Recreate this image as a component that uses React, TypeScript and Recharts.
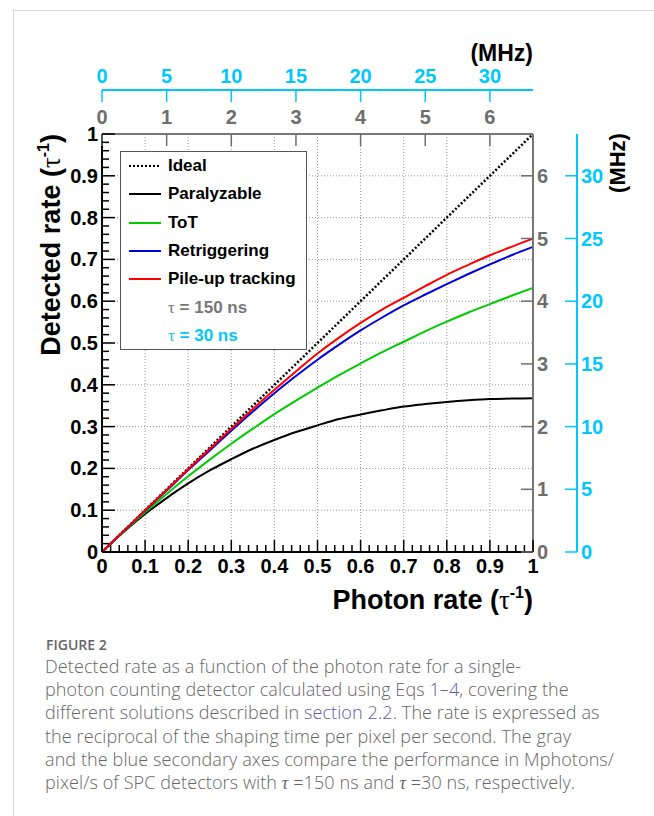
import { LineChart, Line, XAxis, YAxis, ReferenceLine } from "recharts";

// photon rate in units of 1/tau
const photonRate = [0, 0.05, 0.1, 0.15, 0.2, 0.25, 0.3, 0.35, 0.4, 0.45, 0.5, 0.55, 0.6, 0.65, 0.7, 0.75, 0.8, 0.85, 0.9, 0.95, 1];
const ideal = [0, 0.05, 0.1, 0.15, 0.2, 0.25, 0.3, 0.35, 0.4, 0.45, 0.5, 0.55, 0.6, 0.65, 0.7, 0.75, 0.8, 0.85, 0.9, 0.95, 1];
const paralyzable = [0, 0.048, 0.091, 0.129, 0.164, 0.195, 0.222, 0.247, 0.268, 0.287, 0.303, 0.318, 0.329, 0.339, 0.348, 0.354, 0.359, 0.363, 0.366, 0.367, 0.368];
const tot = [0, 0.049, 0.095, 0.139, 0.181, 0.221, 0.259, 0.295, 0.33, 0.362, 0.393, 0.423, 0.451, 0.478, 0.503, 0.528, 0.551, 0.573, 0.593, 0.613, 0.632];
const retriggering = [0, 0.05, 0.099, 0.147, 0.196, 0.243, 0.29, 0.336, 0.38, 0.421, 0.46, 0.496, 0.53, 0.561, 0.59, 0.616, 0.641, 0.665, 0.688, 0.71, 0.73];
const pileUp = [0, 0.05, 0.1, 0.149, 0.198, 0.247, 0.295, 0.342, 0.388, 0.432, 0.475, 0.513, 0.548, 0.58, 0.608, 0.636, 0.663, 0.687, 0.71, 0.73, 0.75];

const rateGrid = [0.1, 0.2, 0.3, 0.4, 0.5, 0.6, 0.7, 0.8, 0.9];
const rateTicks = Array.from({ length: 51 }, (_, i) => i / 50);
const mhz150Ticks = [0, 1, 2, 3, 4, 5, 6];
const mhz30Ticks = [0, 5, 10, 15, 20, 25, 30];
// 1/tau expressed in MHz for tau = 150 ns and tau = 30 ns
const mhz150Max = 1000 / 150;
const mhz30Max = 1000 / 30;

const data = photonRate.map((x, i) => ({
  x,
  mhz150: x * mhz150Max,
  mhz30: x * mhz30Max,
  ideal: ideal[i],
  paralyzable: paralyzable[i],
  tot: tot[i],
  retriggering: retriggering[i],
  pileUp: pileUp[i],
}));

const series = [
  { key: "ideal", name: "Ideal", color: "#000000", dash: "2 2" },
  { key: "paralyzable", name: "Paralyzable", color: "#000000" },
  { key: "tot", name: "ToT", color: "#00cc00" },
  { key: "retriggering", name: "Retriggering", color: "#0000dd" },
  { key: "pileUp", name: "Pile-up tracking", color: "#ff0000" },
];

const FONT = "'Liberation Sans', Arial, Helvetica, sans-serif";
const SERIF = "'Liberation Serif', serif";
const GRAY = "#6e6e6e";
const CYAN = "#00c8ff";
const TICK_FONT = 20;

const isMajor = (v: number) => Math.abs(v * 10 - Math.round(v * 10)) < 1e-6;
const fmtRate = (v: number) => (v === 0 ? "0" : v === 1 ? "1" : v.toFixed(1));

function RateXTick({ x, y, payload }: any) {
  const v = payload.value;
  const major = isMajor(v);
  return (
    <g>
      <line x1={x} x2={x} y1={y} y2={y - (major ? 12 : 7)} stroke="#000" strokeWidth={1.5} />
      {major && (
        <text x={x} y={y + 21} textAnchor="middle" fontFamily={FONT} fontWeight="bold" fontSize={TICK_FONT} fill="#000">
          {fmtRate(v)}
        </text>
      )}
    </g>
  );
}

function RateYTick({ x, y, payload }: any) {
  const v = payload.value;
  const major = isMajor(v);
  return (
    <g>
      <line x1={x} x2={x + (major ? 13 : 7)} y1={y} y2={y} stroke="#000" strokeWidth={1.5} />
      {major && (
        <text x={x - 4} y={y + 7} textAnchor="end" fontFamily={FONT} fontWeight="bold" fontSize={TICK_FONT} fill="#000">
          {fmtRate(v)}
        </text>
      )}
    </g>
  );
}

function TopTick({ x, y, payload, color, down }: any) {
  return (
    <g>
      <line x1={x} x2={x} y1={y} y2={y + 12} stroke={color} strokeWidth={1.5} />
      <text x={x} y={y - down} textAnchor="middle" fontFamily={FONT} fontWeight="bold" fontSize={TICK_FONT} fill={color}>
        {payload.value}
      </text>
    </g>
  );
}

function RightTick({ x, y, payload, color }: any) {
  return (
    <g>
      <line x1={x} x2={x - 12} y1={y} y2={y} stroke={color} strokeWidth={1.5} />
      <text x={x + 4} y={y + 7} textAnchor="start" fontFamily={FONT} fontWeight="bold" fontSize={TICK_FONT} fill={color}>
        {payload.value}
      </text>
    </g>
  );
}

function Legend() {
  return (
    <div
      style={{
        position: "absolute",
        left: 120,
        top: 151,
        width: 185,
        height: 197,
        border: "1px solid #555",
        background: "#fff",
        fontFamily: FONT,
        fontWeight: "bold",
        fontSize: 17,
      }}
    >
      {series.map((s, i) => (
        <div key={s.key} style={{ position: "absolute", left: 7, top: 3 + i * 28.3, height: 22, display: "flex", alignItems: "center" }}>
          <svg width={34} height={6}>
            <line x1={1} x2={33} y1={3} y2={3} stroke={s.color} strokeWidth={2} strokeDasharray={s.dash} />
          </svg>
          <span style={{ marginLeft: 6 }}>{s.name}</span>
        </div>
      ))}
      <div style={{ position: "absolute", left: 47, top: 3 + 5 * 28.3, height: 22, lineHeight: "22px", color: "#777" }}>
        <span style={{ fontFamily: SERIF, fontWeight: "normal" }}>τ</span> = 150 ns
      </div>
      <div style={{ position: "absolute", left: 47, top: 3 + 6 * 28.3, height: 22, lineHeight: "22px", color: CYAN }}>
        <span style={{ fontFamily: SERIF, fontWeight: "normal" }}>τ</span> = 30 ns
      </div>
    </div>
  );
}

const linkColor = "#5b5bb0";
const captionLines = [
  <>Detected rate as a function of the photon rate for a single-</>,
  <>
    photon counting detector calculated using Eqs <span style={{ color: linkColor }}>1–4</span>, covering the
  </>,
  <>
    different solutions described in <span style={{ color: linkColor }}>section 2.2</span>. The rate is expressed as
  </>,
  <>the reciprocal of the shaping time per pixel per second. The gray</>,
  <>and the blue secondary axes compare the performance in Mphotons/</>,
  <>
    pixel/s of SPC detectors with <i style={{ fontFamily: SERIF }}>τ</i> =150 ns and{" "}
    <i style={{ fontFamily: SERIF }}>τ</i> =30 ns, respectively.
  </>,
];

function RateTitle({ label }: { label: string }) {
  return (
    <>
      {label} (<tspan fontFamily={SERIF} fontWeight="normal">τ</tspan>
      <tspan dy={-11} fontSize={16}>-1</tspan>
      <tspan dy={11}>)</tspan>
    </>
  );
}

export default function App() {
  return (
    <div style={{ position: "absolute", left: 0, top: 0, width: 654, height: 816, overflow: "hidden", background: "#fff" }}>
      <div
        style={{
          position: "absolute",
          left: 13,
          top: 10,
          width: 700,
          height: 900,
          border: "1px solid #d9d9d9",
        }}
      />
      <div style={{ position: "absolute", left: 0, top: 0 }}>
        <LineChart width={654} height={630} data={data} margin={{ top: 50, right: 17, bottom: 48, left: 42 }}>
          <XAxis
            xAxisId="rate"
            dataKey="x"
            type="number"
            domain={[0, 1]}
            ticks={rateTicks}
            interval={0}
            height={30}
            tickSize={0}
            tickMargin={0}
            tickLine={false}
            axisLine={{ stroke: "#000", strokeWidth: 2 }}
            tick={<RateXTick />}
            label={(p: any) => {
              const vb = p.viewBox;
              return (
                <text x={vb.x + vb.width} y={vb.y + 57} textAnchor="end" fontFamily={FONT} fontWeight="bold" fontSize={27} fill="#000">
                  <RateTitle label="Photon rate" />
                </text>
              );
            }}
          />
          <XAxis
            xAxisId="mhz150"
            dataKey="mhz150"
            orientation="top"
            type="number"
            domain={[0, mhz150Max]}
            allowDataOverflow
            ticks={mhz150Ticks}
            interval={0}
            height={44}
            tickSize={0}
            tickMargin={0}
            tickLine={false}
            axisLine={{ stroke: "#777", strokeWidth: 2 }}
            tick={<TopTick color={GRAY} down={10} />}
          />
          <XAxis
            xAxisId="mhz30"
            dataKey="mhz30"
            orientation="top"
            type="number"
            domain={[0, mhz30Max]}
            allowDataOverflow
            ticks={mhz30Ticks}
            interval={0}
            height={40}
            tickSize={0}
            tickMargin={0}
            tickLine={false}
            axisLine={{ stroke: CYAN, strokeWidth: 2 }}
            tick={<TopTick color={CYAN} down={7} />}
            label={(p: any) => {
              const vb = p.viewBox;
              return (
                <text x={vb.x + vb.width} y={vb.y + 11} textAnchor="end" fontFamily={FONT} fontWeight="bold" fontSize={23} fill="#000">
                  (MHz)
                </text>
              );
            }}
          />
          <YAxis
            yAxisId="det"
            type="number"
            domain={[0, 1]}
            ticks={rateTicks}
            interval={0}
            width={60}
            tickSize={0}
            tickMargin={0}
            tickLine={false}
            axisLine={{ stroke: "#000", strokeWidth: 2 }}
            tick={<RateYTick />}
            label={(p: any) => {
              const vb = p.viewBox;
              const cx = vb.x + 18;
              const cy = vb.y;
              return (
                <text
                  x={cx}
                  y={cy}
                  transform={`rotate(-90 ${cx} ${cy})`}
                  textAnchor="end"
                  fontFamily={FONT}
                  fontWeight="bold"
                  fontSize={27}
                  fill="#000"
                >
                  <RateTitle label="Detected rate" />
                </text>
              );
            }}
          />
          <YAxis
            yAxisId="mhz150"
            orientation="right"
            type="number"
            domain={[0, mhz150Max]}
            allowDataOverflow
            ticks={mhz150Ticks}
            interval={0}
            width={44}
            tickSize={0}
            tickMargin={0}
            tickLine={false}
            axisLine={{ stroke: "#777", strokeWidth: 2 }}
            tick={<RightTick color={GRAY} />}
          />
          <YAxis
            yAxisId="mhz30"
            orientation="right"
            type="number"
            domain={[0, mhz30Max]}
            allowDataOverflow
            ticks={mhz30Ticks}
            interval={0}
            width={60}
            tickSize={0}
            tickMargin={0}
            tickLine={false}
            axisLine={{ stroke: CYAN, strokeWidth: 2 }}
            tick={<RightTick color={CYAN} />}
            label={(p: any) => {
              const vb = p.viewBox;
              const cx = vb.x + 48;
              const cy = vb.y + 29;
              return (
                <text
                  x={cx}
                  y={cy}
                  transform={`rotate(-90 ${cx} ${cy})`}
                  textAnchor="middle"
                  fontFamily={FONT}
                  fontWeight="bold"
                  fontSize={22}
                  fill="#000"
                >
                  (MHz)
                </text>
              );
            }}
          />
          {rateGrid.map((v) => (
            <ReferenceLine key={`gx${v}`} xAxisId="rate" yAxisId="det" x={v} stroke="#999" strokeWidth={1} strokeDasharray="1 2" />
          ))}
          {rateGrid.map((v) => (
            <ReferenceLine key={`gy${v}`} xAxisId="rate" yAxisId="det" y={v} stroke="#999" strokeWidth={1} strokeDasharray="1 2" />
          ))}
          {series.map((s) => (
            <Line
              key={s.key}
              xAxisId="rate"
              yAxisId="det"
              type="monotone"
              dataKey={s.key}
              stroke={s.color}
              strokeWidth={s.dash ? 2.5 : 2}
              strokeDasharray={s.dash}
              dot={false}
              activeDot={false}
              isAnimationActive={false}
            />
          ))}
        </LineChart>
      </div>
      <Legend />
      <div
        style={{
          position: "absolute",
          left: 46,
          top: 639,
          fontFamily: "'Open Sans', sans-serif",
          color: "#666",
          fontSize: 14,
          lineHeight: "12px",
          fontWeight: 600,
        }}
      >
        FIGURE 2
      </div>
      <div style={{ position: "absolute", left: 45, top: 655, fontFamily: "'Open Sans', sans-serif", color: "#666" }}>
        {captionLines.map((l, i) => (
          <div key={i} style={{ fontSize: 18, lineHeight: "23.2px", fontWeight: 300, letterSpacing: 0.1, whiteSpace: "nowrap" }}>
            {l}
          </div>
        ))}
      </div>
    </div>
  );
}
